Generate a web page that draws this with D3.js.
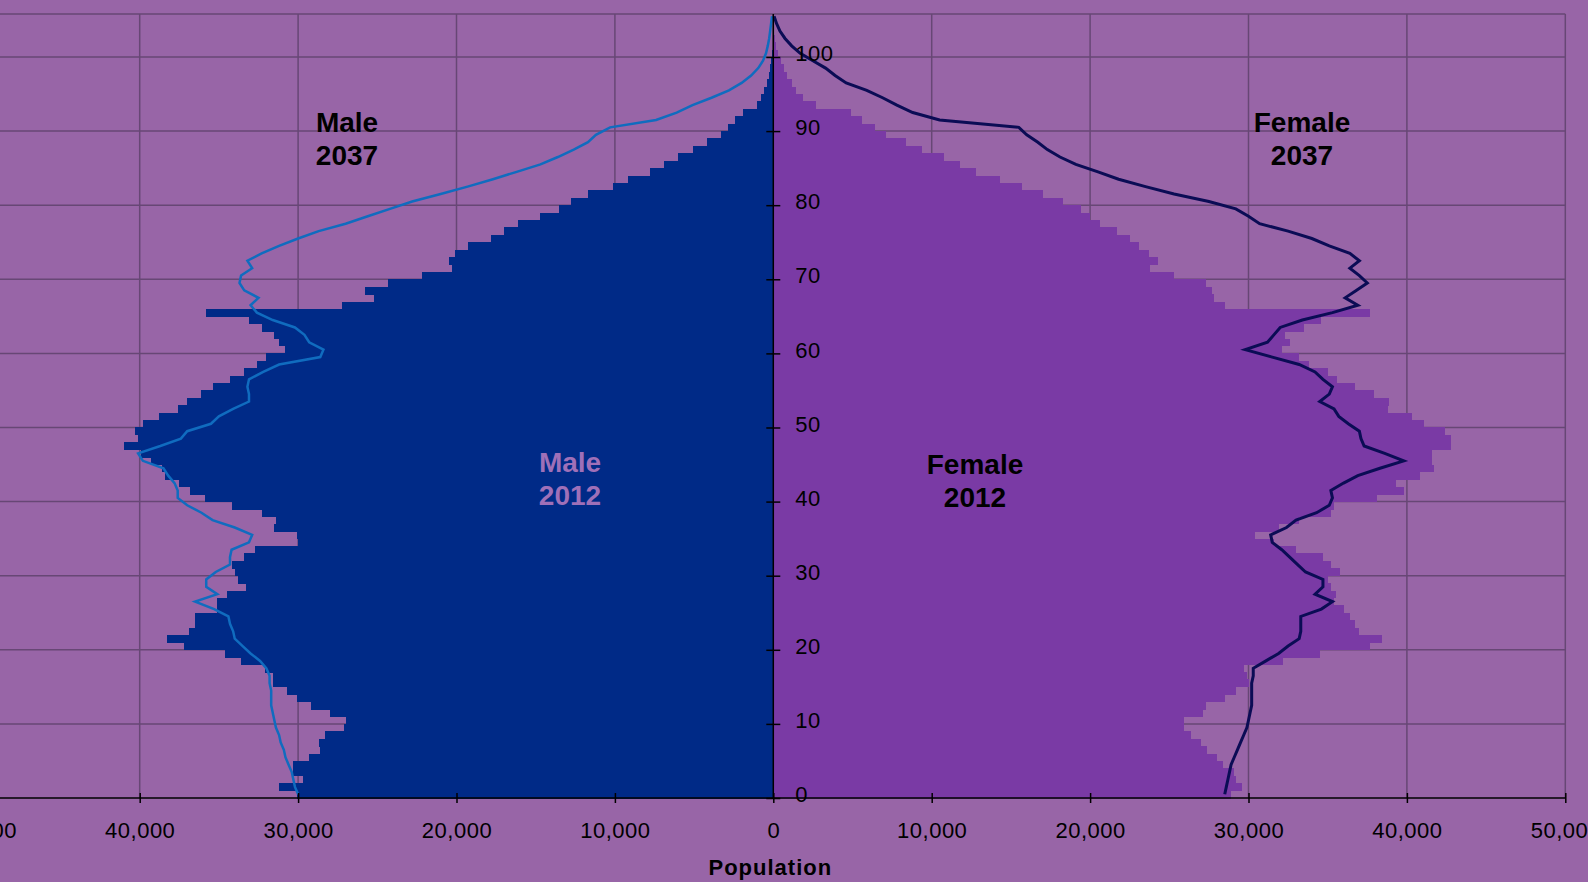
<!DOCTYPE html>
<html>
<head>
<meta charset="utf-8">
<script src="https://cdn.jsdelivr.net/npm/d3@7"></script>
<style>
    body { margin: 0; background: #9865a7; }
    svg { display: block; font-family: "Liberation Sans", Arial, sans-serif; }
    .axis text { font-size: 22px; letter-spacing: 0.5px; fill: #000; }
    .axis path, .axis line { stroke: #000; stroke-width: 1.5; }
    .grid line { stroke: #674775; stroke-width: 1.5; }
    .label { font-size: 28px; font-weight: bold; text-anchor: middle; }
</style>
</head>
<body>
<script>
// single years of age 0..105, population in thousands
var ages = d3.range(0, 106);

var male2012 = [
    30.1, 31.2, 29.7, 30.3, 30.3, 29.3, 28.6, 28.7, 28.3, 27.1,
    27.0, 28.0, 29.2, 30.1, 30.7, 31.6, 31.6, 32.1, 33.6, 34.6,
    37.2, 38.3, 36.9, 36.5, 36.5, 35.1, 35.1, 34.5, 33.3, 33.8,
    34.0, 34.2, 33.4, 32.7, 30.0, 30.1, 31.5, 31.4, 32.3, 34.2,
    35.9, 36.8, 37.5, 38.4, 38.6, 39.3, 39.9, 41.0, 40.1, 40.3,
    39.8, 38.8, 37.6, 37.0, 36.1, 35.4, 34.3, 33.4, 32.6, 32.0,
    30.8, 31.2, 31.5, 32.3, 33.1, 35.8, 27.2, 25.2, 25.8, 24.3,
    22.2, 20.3, 20.5, 20.1, 19.3, 17.8, 17.0, 16.1, 14.7, 13.5,
    12.8, 11.7, 10.1, 9.2, 7.8, 6.9, 6.0, 5.1, 4.2, 3.3,
    2.85, 2.4, 1.9, 1.0, 0.78, 0.57, 0.42, 0.3, 0.2, 0.13,
    0.08, 0.05, 0.03, 0.02, 0.01, 0.0
];

var female2012 = [
    28.9, 29.6, 29.2, 29.1, 28.4, 28.0, 27.4, 27.0, 26.4, 25.9,
    25.9, 27.1, 27.3, 28.5, 29.2, 30.0, 29.9, 29.7, 32.2, 34.5,
    37.7, 38.4, 37.0, 36.7, 36.4, 36.0, 35.4, 35.5, 35.2, 35.0,
    35.8, 35.2, 34.7, 33.0, 31.6, 30.4, 31.9, 33.2, 35.2, 35.4,
    38.1, 39.8, 39.3, 40.8, 41.7, 41.6, 41.6, 42.8, 42.8, 42.4,
    41.1, 40.3, 38.8, 38.9, 37.9, 36.7, 35.6, 35.0, 33.8, 33.2,
    32.1, 32.6, 32.3, 33.5, 34.6, 37.7, 28.5, 27.8, 27.7, 27.3,
    25.3, 23.8, 24.3, 23.7, 23.1, 22.5, 21.7, 20.6, 20.0, 19.4,
    18.3, 17.0, 15.7, 14.3, 12.8, 11.8, 10.8, 9.4, 8.4, 7.1,
    6.4, 5.6, 4.9, 2.7, 1.9, 1.44, 1.16, 0.89, 0.68, 0.47,
    0.28, 0.16, 0.09, 0.05, 0.02, 0.01
];

var male2037 = [
    30.0, 30.2, 30.3, 30.4, 30.6, 30.8, 30.9, 31.1, 31.2, 31.4,
    31.5, 31.6, 31.7, 31.7, 31.7, 31.8, 31.8, 32.0, 32.4, 33.0,
    33.5, 34.0, 34.1, 34.3, 34.4, 35.3, 36.5, 35.1, 35.8, 35.8,
    35.2, 34.3, 34.3, 34.2, 33.1, 32.9, 34.0, 35.4, 36.1, 37.0,
    37.6, 37.6, 37.8, 38.2, 38.5, 39.8, 40.1, 38.7, 37.4, 37.0,
    35.5, 35.0, 34.1, 33.1, 33.1, 33.2, 33.1, 32.2, 31.2, 28.6,
    28.4, 29.3, 29.6, 30.2, 31.6, 32.6, 33.0, 32.5, 33.4, 33.7,
    33.6, 32.9, 33.2, 32.3, 31.2, 30.0, 28.7, 27.0, 25.6, 24.2,
    22.8, 21.0, 19.3, 17.7, 16.2, 14.7, 13.6, 12.6, 11.7, 11.2,
    10.3, 7.4, 6.1, 5.1, 3.9, 2.8, 2.0, 1.4, 0.95, 0.65,
    0.46, 0.35, 0.26, 0.2, 0.14, 0.08
];

var female2037 = [
    28.5, 28.6, 28.7, 28.8, 28.9, 29.1, 29.3, 29.5, 29.7, 29.9,
    30.0, 30.1, 30.2, 30.2, 30.2, 30.2, 30.3, 30.3, 31.1, 31.9,
    32.5, 33.2, 33.3, 33.3, 33.3, 34.6, 35.3, 34.2, 34.7, 34.7,
    33.6, 33.1, 32.6, 32.1, 31.5, 31.4, 32.4, 33.0, 34.3, 35.1,
    35.3, 35.2, 36.0, 36.9, 38.3, 39.8, 38.6, 37.3, 37.1, 37.0,
    36.3, 35.7, 35.4, 34.5, 35.1, 35.3, 34.7, 34.2, 33.2, 31.5,
    29.8, 31.2, 31.6, 32.0, 33.4, 35.3, 36.9, 36.1, 36.8, 37.5,
    37.0, 36.4, 37.0, 36.4, 35.1, 34.0, 32.5, 30.7, 30.0, 29.2,
    27.5, 25.3, 23.5, 21.8, 20.5, 19.1, 18.1, 17.3, 16.7, 16.0,
    15.5, 10.5, 8.8, 7.8, 6.9, 5.9, 4.6, 3.9, 3.3, 2.5,
    1.7, 1.16, 0.74, 0.42, 0.21, 0.05
];

var popTicks = [-50000, -40000, -30000, -20000, -10000, 0, 10000, 20000, 30000, 40000, 50000];
var ageTicks = [0, 10, 20, 30, 40, 50, 60, 70, 80, 90, 100];

var width = 1588, height = 882;

var svg = d3.select('body').append('svg')
    .attr('width', width)
    .attr('height', height);

svg.append('rect')
    .attr('width', width)
    .attr('height', height)
    .attr('fill', '#9865a7');

var x = d3.scaleLinear()
    .domain([-50000, 50000])
    .range([-18.7, 1565.3]);

var y = d3.scaleLinear()
    .domain([0, 105.8])
    .range([798, 14]);

var g = svg.append('g');

// grid
var grid = g.append('g').attr('class', 'grid');
grid.selectAll('.v')
    .data(popTicks)
    .enter().append('line')
    .attr('x1', x).attr('x2', x)
    .attr('y1', y(105.8)).attr('y2', y(0));
grid.selectAll('.h')
    .data(ageTicks.slice(1).concat([105.8]))
    .enter().append('line')
    .attr('x1', x(-50000)).attr('x2', x(50000))
    .attr('y1', y).attr('y2', y);

// bars
var bars = g.append('g').attr('shape-rendering', 'crispEdges');
bars.selectAll('.male')
    .data(ages)
    .enter().append('rect')
    .attr('x', function (a) { return x(-male2012[a] * 1000); })
    .attr('width', function (a) { return x(0) - x(-male2012[a] * 1000); })
    .attr('y', function (a) { return y(a + 1); })
    .attr('height', function (a) { return y(a) - y(a + 1) + 0.5; })
    .attr('fill', '#002a87');
bars.selectAll('.female')
    .data(ages)
    .enter().append('rect')
    .attr('x', x(0))
    .attr('width', function (a) { return x(female2012[a] * 1000) - x(0); })
    .attr('y', function (a) { return y(a + 1); })
    .attr('height', function (a) { return y(a) - y(a + 1) + 0.5; })
    .attr('fill', '#7a3aa5');

// 2037 projection lines
var lineMale = d3.line()
    .x(function (a) { return x(-male2037[a] * 1000); })
    .y(function (a) { return y(a + 0.5); });
var lineFemale = d3.line()
    .x(function (a) { return x(female2037[a] * 1000); })
    .y(function (a) { return y(a + 0.5); });

g.append('path')
    .attr('d', lineMale(ages))
    .attr('fill', 'none')
    .attr('stroke', '#106cbf')
    .attr('stroke-width', 2.5);
g.append('path')
    .attr('d', lineFemale(ages))
    .attr('fill', 'none')
    .attr('stroke', '#0b0c55')
    .attr('stroke-width', 3);

// axes
var xAxis = g.append('g')
    .attr('class', 'axis')
    .attr('transform', 'translate(0,' + y(0) + ')')
    .call(d3.axisBottom(x)
        .tickValues(popTicks)
        .tickSize(5)
        .tickSizeOuter(0)
        .tickFormat(function (d) { return d3.format(',')(Math.abs(d)); }));
xAxis.selectAll('.tick line').attr('y1', -5).attr('y2', 5);
xAxis.selectAll('.tick text').attr('y', 40).attr('dy', null);
xAxis.select('.domain').attr('d', 'M' + x(-50000) + ',0H' + x(50000));

var yAxis = g.append('g')
    .attr('class', 'axis')
    .attr('transform', 'translate(' + x(0) + ',0)')
    .call(d3.axisRight(y)
        .tickValues(ageTicks)
        .tickSize(7)
        .tickSizeOuter(0)
        .tickFormat(d3.format('d')));
yAxis.selectAll('.tick line').attr('x1', -7).attr('x2', 7);
yAxis.selectAll('.tick text').attr('x', 22).attr('y', -4).attr('dy', '0.35em');
yAxis.select('.domain').attr('d', 'M0,' + y(105.8) + 'V' + y(0));

g.append('text')
    .attr('x', x(0) - 3)
    .attr('y', 875)
    .attr('text-anchor', 'middle')
    .style('font-size', '22px')
    .style('letter-spacing', '1px')
    .style('font-weight', 'bold')
    .text('Population');

// series labels
var labels = [
    { lines: ['Male', '2037'], x: 347, y: 131.5, color: '#000' },
    { lines: ['Female', '2037'], x: 1302, y: 131.5, color: '#000' },
    { lines: ['Male', '2012'], x: 570, y: 471.5, color: '#9f70b8' },
    { lines: ['Female', '2012'], x: 975, y: 473.5, color: '#000' }
];
labels.forEach(function (l) {
    var t = g.append('text')
        .attr('class', 'label')
        .attr('fill', l.color);
    l.lines.forEach(function (s, i) {
        t.append('tspan')
            .attr('x', l.x)
            .attr('y', l.y + i * 33.5)
            .text(s);
    });
});
</script>
</body>
</html>
